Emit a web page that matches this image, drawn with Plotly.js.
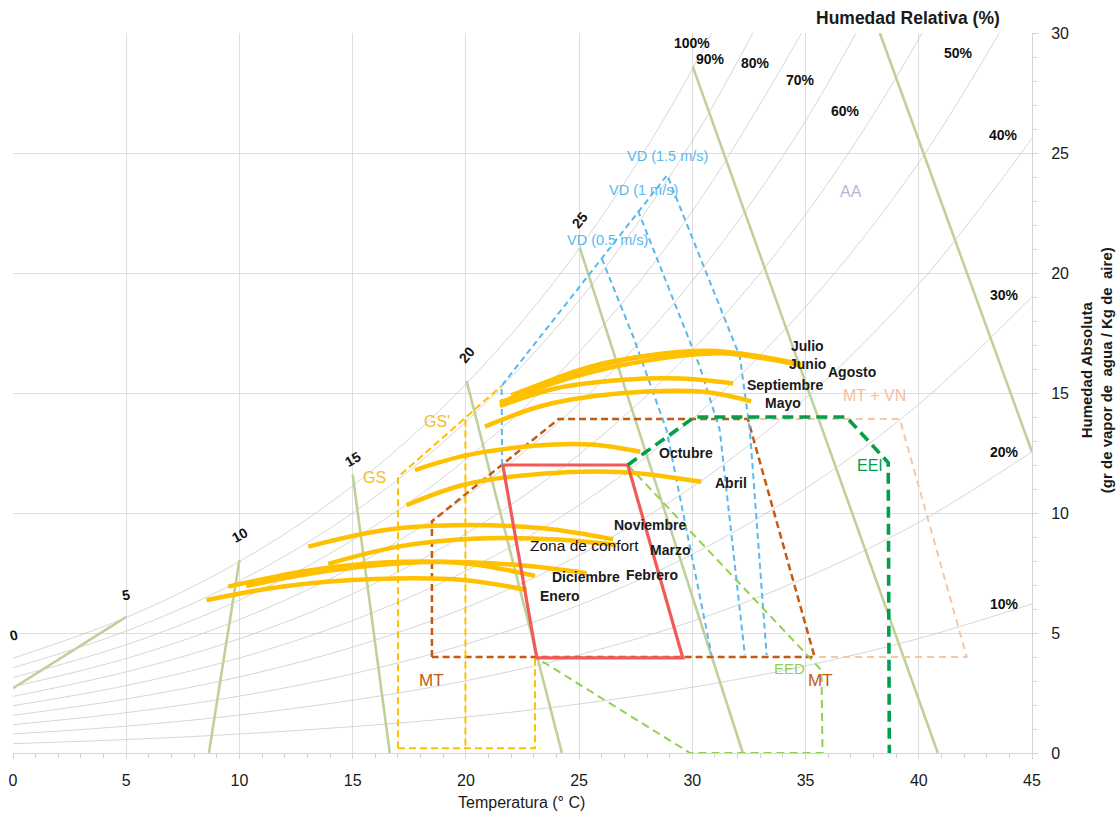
<!DOCTYPE html>
<html>
<head>
<meta charset="utf-8">
<script src="https://cdn.plot.ly/plotly-3.0.1.min.js"></script>
<style>html,body{margin:0;padding:0;background:#fff;}#chart{width:1119px;height:816px;}</style>
</head>
<body>
<div id="chart"></div>
<script>
// ---------- DATA ----------
const temps = [0,5,10,15,20,25,30,35,40,45];
// relative-humidity curves: absolute humidity (g/kg) at each temperature
const rh100 = [3.95,5.65,7.98,11.13,15.37,21.01,28.48,38.32];
const rh90  = [3.55,5.08,7.17,10.00,13.80,18.85,25.51,34.28];
const rh80  = [3.15,4.51,6.37,8.88,12.24,16.70,22.58,30.28];
const rh70  = [2.76,3.94,5.56,7.75,10.68,14.56,19.67,26.34,35.00];
const rh60  = [2.36,3.38,4.76,6.63,9.13,12.44,16.78,22.44,29.76,39.22];
const rh50  = [1.97,2.81,3.96,5.52,7.59,10.33,13.92,18.59,24.60,32.35];
const rh40  = [1.57,2.25,3.17,4.41,6.06,8.24,11.09,14.78,19.53,25.61];
const rh30  = [1.18,1.68,2.37,3.30,4.53,6.16,8.28,11.02,14.53,19.01];
const rh20  = [0.79,1.12,1.58,2.20,3.01,4.09,5.49,7.30,9.61,12.55];
const rh10  = [0.39,0.56,0.79,1.10,1.50,2.04,2.74,3.63,4.77,6.21];
const rhLabels = ['100%','90%','80%','70%','60%','50%','40%','30%','20%','10%'];
const rhLabelX = [29.98,30.8,32.78,34.79,36.78,41.77,43.75,43.8,43.77,43.77];
const rhLabelY = [29.58,28.92,28.76,28.04,26.75,29.18,25.75,19.08,12.55,6.21];

// wet-bulb temperature lines
const wbStartT = [10,15,20.03,25.03,30.02,38.28];
const wbStartW = [8.04,11.6,15.5,21.05,28.6,30];
const wbEndT   = [8.65,16.64,24.24,32.23,40.84,45];
const wbEndW   = [0,0,0,0,0,12.54];
const wb0T = [0,5];
const wb0W = [2.7,5.67];
const wbLabels = ['0','5','10','15','20','25'];
const wbLabelX = [0.05,4.99,10.02,15.02,20.03,25.03];
const wbLabelY = [4.9,6.58,9.08,12.24,16.58,22.2];
const wbLabelAng = [-15,-10,-28,-30,-50,-50];

// monthly climate lines (temperature, absolute humidity)
const months = ['Enero','Febrero','Marzo','Abril','Mayo','Junio','Julio','Agosto','Septiembre','Octubre','Noviembre','Diciembre'];
const eneroT = [8.55,12,16,20,22.68];       const eneroW = [6.37,6.95,7.25,7.2,6.79];
const febreroT = [10.3,14,18,22,25.33];     const febreroW = [6.96,7.6,7.95,7.85,7.49];
const marzoT = [13.92,17,20.5,24,26.65];    const marzoW = [7.88,8.6,8.94,8.9,8.67];
const abrilT = [17.38,20,23.5,27,30.4];     const abrilW = [10.33,11.2,11.65,11.7,11.3];
const mayoT = [20.84,23.5,27,30.5,32.6];    const mayoW = [13.6,14.5,15.0,15.05,14.65];
const junioT = [22.68,25.5,28.5,31,34.8];   const junioW = [15.13,16.1,16.6,16.7,16.17];
const julioT = [22.0,25,28,31,34.8];        const julioW = [14.9,15.9,16.55,16.75,16.2];
const agostoT = [21.5,24.5,28,31.5,34.8];   const agostoW = [14.6,15.6,16.35,16.65,16.15];
const septiembreT = [21.5,24,27,29.5,31.8]; const septiembreW = [14.46,15.2,15.55,15.6,15.4];
const octubreT = [17.75,20,23,25.5,27.7];   const octubreW = [11.79,12.4,12.8,12.85,12.55];
const noviembreT = [13.04,16.5,20,23.5,26.5]; const noviembreW = [8.6,9.3,9.5,9.35,8.9];
const diciembreT = [9.5,13,16.5,20,23.05];  const diciembreW = [6.93,7.6,7.95,7.9,7.38];
const monthLabelX = [24.15,28.21,29.0,31.7,34.02,35.1,35.1,37.04,34.08,29.71,28.17,25.3];
const monthLabelY = [6.54,7.42,8.46,11.26,14.58,16.2,16.96,15.875,15.33,12.5,9.5,7.33];

// strategy zones
const confortT = [21.63,27.15,29.58,23.13,21.63];
const confortW = [12.0,12.0,3.96,3.96,12.0];
const mtT = [18.5,18.5,24.1,32.45,35.4,18.5];
const mtW = [4.0,9.65,13.92,13.92,4.0,4.0];
const mtvnT = [32.45,39.16,42.12,35.4];
const mtvnW = [13.92,13.92,4.0,4.0];
const eeiT = [27.15,30.1,36.8,38.65,38.7];
const eeiW = [12.0,14.0,14.0,12.1,0];
const eedT = [27.15,35.7,35.75,29.9,23.13];
const eedW = [12.0,3.45,0,0,3.96];
const gsT = [17,17,21.58,null,19.98,19.98,null,17,23.05,23.05];
const gsW = [0.2,11.5,15.3,null,13.9,0.2,null,0.2,0.2,4.0];
const vdOuterT = [21.6,21.58,28.89,32.1,32.54,33.28];
const vdOuterW = [12.0,15.3,24.08,16.51,13.46,4.08];
const vd1T = [27.6,30.33,31.21,32.32];
const vd1W = [22.6,16.1,13.46,4.08];
const vd05T = [26.0,27.39,28.86,30.85];
const vd05W = [20.6,17.35,13.46,4.08];

// ---------- DRAWING ----------
const FONT = 'Liberation Sans, Arial, sans-serif';
function ln(x,y,color,width,dash,shape){
  return {type:'scatter',mode:'lines',x:x,y:y,hoverinfo:'skip',
    line:{color:color,width:width,dash:dash||'solid',shape:shape||'linear'}};
}
const traces = [];
[rh100,rh90,rh80,rh70,rh60,rh50,rh40,rh30,rh20,rh10].forEach(a=>{
  traces.push(ln(temps.slice(0,a.length),a,'#cbcbcb',0.8,'solid','spline'));
});
const WB = '#bfd19a';
for(let i=0;i<wbStartT.length;i++){
  traces.push(ln([wbStartT[i],wbEndT[i]],[wbStartW[i],wbEndW[i]],WB,2.6));
}
traces.push(ln(wb0T,wb0W,WB,2.6));

traces.push(ln(mtvnT,mtvnW,'#f6c6a6',2,'7px,5px'));
traces.push(ln(mtT,mtW,'#c55a11',2.5,'7px,4px'));
traces.push(ln(gsT,gsW,'#ffc000',2,'7px,4px'));
traces.push(ln(vdOuterT,vdOuterW,'#5ab8ee',2,'6px,4px'));
traces.push(ln(vd1T,vd1W,'#5ab8ee',2,'6px,4px'));
traces.push(ln(vd05T,vd05W,'#5ab8ee',2,'6px,4px'));
traces.push(ln(eedT,eedW,'#92d050',2,'8px,5px'));

const monthT = [eneroT,febreroT,marzoT,abrilT,mayoT,junioT,julioT,agostoT,septiembreT,octubreT,noviembreT,diciembreT];
const monthW = [eneroW,febreroW,marzoW,abrilW,mayoW,junioW,julioW,agostoW,septiembreW,octubreW,noviembreW,diciembreW];
for(let i=0;i<monthT.length;i++){
  traces.push(ln(monthT[i],monthW[i],'#ffc000',4.5,'solid','spline'));
}
traces.push(ln(confortT,confortW,'#f25a5a',3.2));
traces.push(ln(eeiT,eeiW,'#00a04a',3.6,'11px,6px'));

const ann = [];
function txt(x,y,t,size,color,opts){
  const a = Object.assign({x:x,y:y,xref:'x',yref:'y',text:t,showarrow:false,
    xanchor:'center',yanchor:'middle',
    font:{family:FONT,size:size,color:color}},opts||{});
  ann.push(a);
}
for(let i=0;i<rhLabels.length;i++) txt(rhLabelX[i],rhLabelY[i],'<b>'+rhLabels[i]+'</b>',14,'#111');
for(let i=0;i<wbLabels.length;i++) txt(wbLabelX[i],wbLabelY[i],'<b>'+wbLabels[i]+'</b>',14,'#111',{textangle:wbLabelAng[i]});
for(let i=0;i<months.length;i++) txt(monthLabelX[i],monthLabelY[i],'<b>'+months[i]+'</b>',14,'#1a1a1a');
txt(22.74,8.63,'Zona de confort',15.5,'#111',{xanchor:'left'});
txt(18.5,3.04,'MT',17,'#c55a11');
txt(35.65,3.04,'MT',17,'#c55a11');
txt(34.3,3.54,'EED',15,'#92d050');
txt(37.84,12.0,'EEI',16,'#00a04a');
txt(38.06,14.9,'MT + VN',16,'#f6c0a0');
txt(15.98,11.46,'GS',16,'#f2bd2a');
txt(18.72,13.8,"GS'",16,'#f2bd2a');
txt(28.9,24.88,'VD (1.5 m/s)',14.5,'#5ab8ee');
txt(27.86,23.46,'VD (1 m/s)',14.5,'#5ab8ee');
txt(26.27,21.38,'VD (0.5 m/s)',14.5,'#5ab8ee');
txt(37.0,23.4,'AA',16,'#b6b6d6');

ann.push({xref:'paper',yref:'paper',x:0.878,y:1.0208,xanchor:'center',yanchor:'middle',
  text:'<b>Humedad Relativa (%)</b>',showarrow:false,
  font:{family:FONT,size:17.5,color:'#1a1a1a'}});
ann.push({xref:'paper',yref:'paper',x:0.4995,y:-0.0694,xanchor:'center',yanchor:'middle',
  text:'Temperatura (° C)',showarrow:false,
  font:{family:FONT,size:16,color:'#1a1a1a'}});
ann.push({xref:'paper',yref:'paper',x:1.064,y:0.532,xanchor:'center',yanchor:'middle',textangle:-90,
  text:'<b>Humedad Absoluta</b><br><b>(gr de vapor de\u00a0 agua / Kg de\u00a0 aire)</b>',showarrow:false,
  font:{family:FONT,size:15,color:'#1a1a1a'}});

const axisCommon = {
  showgrid:true, gridcolor:'#dedede', gridwidth:1, zeroline:false,
  showline:true, linecolor:'#d4d4d4', linewidth:1,
  ticks:'outside', ticklen:5, tickcolor:'#d4d4d4', dtick:5, tick0:0,
  minor:{ticks:'outside', dtick:1, ticklen:4, tickcolor:'#d4d4d4', showgrid:false},
  tickfont:{family:FONT,size:16,color:'#1a1a1a'}, fixedrange:true
};
const layout = {
  width:1119, height:816,
  margin:{l:13,r:87,t:33,b:63},
  paper_bgcolor:'#ffffff', plot_bgcolor:'#ffffff',
  showlegend:false,
  xaxis:Object.assign({},axisCommon,{range:[0,45],ticklabelstandoff:8}),
  yaxis:Object.assign({},axisCommon,{range:[0,30],side:'right',ticklabelstandoff:10}),
  annotations:ann
};
Plotly.newPlot('chart',traces,layout,{staticPlot:true,displayModeBar:false});
</script>
</body>
</html>
